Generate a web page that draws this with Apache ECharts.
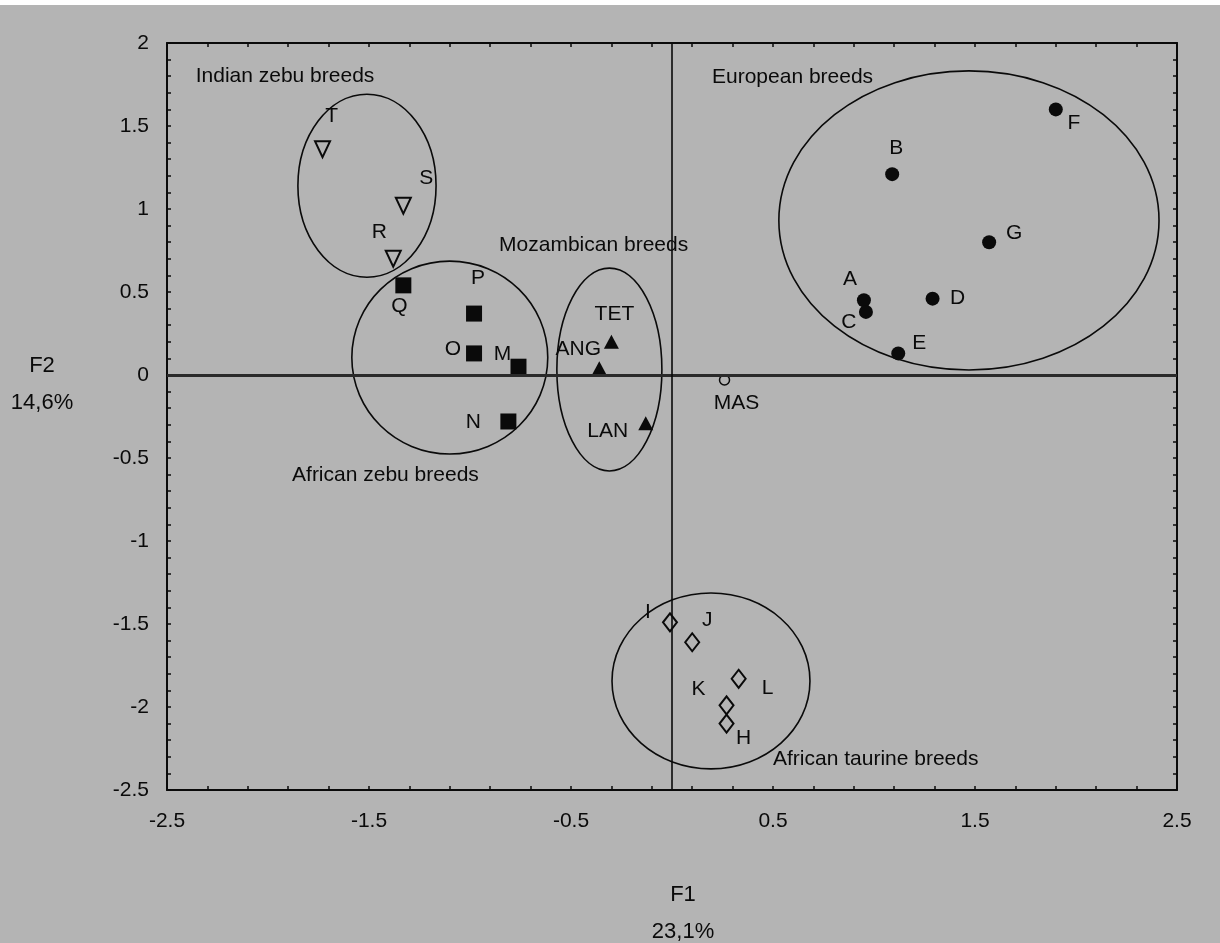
<!DOCTYPE html>
<html>
<head>
<meta charset="utf-8">
<script src="https://cdn.jsdelivr.net/npm/echarts@6/dist/echarts.min.js"></script>
<style>
  html, body { margin: 0; padding: 0; background: #fff; }
  #chart { width: 1220px; height: 943px; }
</style>
</head>
<body>
<div id="chart"></div>
<script>
// breed coordinates on the first two factors: [label, F1, F2]
const INDIAN_ZEBU = [['T', -1.73, 1.36], ['S', -1.33, 1.02], ['R', -1.38, 0.70]];
const AFRICAN_ZEBU = [['Q', -1.33, 0.54], ['P', -0.98, 0.37], ['O', -0.98, 0.13], ['M', -0.76, 0.05], ['N', -0.81, -0.28]];
const MOZAMBICAN = [['TET', -0.30, 0.20], ['ANG', -0.36, 0.04], ['LAN', -0.13, -0.29]];
const EUROPEAN = [['F', 1.90, 1.60], ['B', 1.09, 1.21], ['G', 1.57, 0.80], ['A', 0.95, 0.45], ['C', 0.96, 0.38], ['D', 1.29, 0.46], ['E', 1.12, 0.13]];
const AFRICAN_TAURINE = [['I', -0.01, -1.49], ['J', 0.10, -1.61], ['L', 0.33, -1.83], ['K', 0.27, -1.99], ['H', 0.27, -2.10]];
const OTHER = [['MAS', 0.26, -0.03]];

// group ellipses: [centre F1, centre F2, radius F1, radius F2]
const GROUP_ELLIPSES = [
  [-1.51, 1.14, 0.342, 0.551],
  [-1.10, 0.105, 0.485, 0.581],
  [-0.31, 0.033, 0.26, 0.611],
  [1.47, 0.931, 0.941, 0.901],
  [0.193, -1.843, 0.49, 0.53],
];
// group captions: [text, left F1, middle F2]
const GROUP_LABELS = [
  ['Indian zebu breeds', -2.358, 1.80],
  ['European breeds', 0.198, 1.795],
  ['Mozambican breeds', -0.856, 0.783],
  ['African zebu breeds', -1.881, -0.602],
  ['African taurine breeds', 0.50, -2.313],
];

const X_LABELS = [-2.5, -1.5, -0.5, 0.5, 1.5, 2.5];
const Y_LABELS = [-2.5, -2, -1.5, -1, -0.5, 0, 0.5, 1, 1.5, 2];

// point label offsets (px) from symbol centre
const LABEL_OFFSET = {
  T: [9, -33], S: [23, -27], R: [-14, -27],
  Q: [-4, 21], P: [4, -35], O: [-21, -4], M: [-16, -12], N: [-35, 1],
  TET: [3, -28], ANG: [-21, -19], LAN: [-38, 8], MAS: [12, 23],
  F: [18, 14], B: [4, -26], G: [25, -9], A: [-14, -21], C: [-17, 10], D: [25, 0], E: [21, -10],
  I: [-22, -10], J: [15, -22], L: [29, 9], K: [-28, -16], H: [17, 15],
};

const FONT = 'Liberation Sans, Arial, sans-serif';
const INK = '#0a0a0a';
const BG = '#b4b4b4';

const xTicks = [];
for (let i = 0; i <= 25; i++) xTicks.push(+(-2.5 + i * 0.2).toFixed(1));
const yTicks = [];
for (let i = 0; i <= 45; i++) yTicks.push(+(-2.5 + i * 0.1).toFixed(1));

const chart = echarts.init(document.getElementById('chart'), null, { renderer: 'canvas' });

function axisBase(ticks, labels, show, margin) {
  return {
    type: 'value', min: -2.5,
    axisLine: { show: true, onZero: false, lineStyle: { color: INK, width: 2 } },
    axisTick: { show: true, inside: true, length: 4, customValues: ticks, lineStyle: { color: INK, width: 1.5 } },
    axisLabel: { show: show, customValues: labels, color: INK, fontSize: 21, fontFamily: FONT, margin: margin || 8 },
    splitLine: { show: false },
  };
}

function pointSeries(rows, symbol, size, open, extra) {
  return Object.assign({
    type: 'scatter',
    symbol: symbol,
    symbolSize: size,
    data: rows.map(r => ({ name: r[0], value: [r[1], r[2]], label: { offset: LABEL_OFFSET[r[0]] } })),
    itemStyle: open
      ? { color: 'rgba(0,0,0,0)', borderColor: INK, borderWidth: 2, opacity: 1 }
      : { color: INK, opacity: 1 },
    label: {
      show: true, position: 'inside', formatter: p => p.name,
      color: INK, fontSize: 21, fontFamily: FONT,
    },
    emphasis: { disabled: true },
    z: 3,
  }, extra || {});
}

chart.setOption({
  backgroundColor: BG,
  animation: false,
  grid: { left: 167, right: 43, top: 43, bottom: 153 },
  xAxis: [
    Object.assign(axisBase(xTicks, X_LABELS, true, 21), { max: 2.5, position: 'bottom' }),
    Object.assign(axisBase(xTicks, X_LABELS, false), { max: 2.5, position: 'top' }),
  ],
  yAxis: [
    Object.assign(axisBase(yTicks, Y_LABELS, true, 18), { max: 2, position: 'left' }),
    Object.assign(axisBase(yTicks, Y_LABELS, false), { max: 2, position: 'right' }),
  ],
  graphic: [
    { type: 'rect', left: 0, top: 0, shape: { width: 1220, height: 5 }, style: { fill: '#fff' } },
    { type: 'text', x: 42, y: 366, style: { text: 'F2', textAlign: 'center', textVerticalAlign: 'middle', font: '22px ' + FONT, fill: INK } },
    { type: 'text', x: 42, y: 403, style: { text: '14,6%', textAlign: 'center', textVerticalAlign: 'middle', font: '22px ' + FONT, fill: INK } },
    { type: 'text', x: 683, y: 895, style: { text: 'F1', textAlign: 'center', textVerticalAlign: 'middle', font: '22px ' + FONT, fill: INK } },
    { type: 'text', x: 683, y: 932, style: { text: '23,1%', textAlign: 'center', textVerticalAlign: 'middle', font: '22px ' + FONT, fill: INK } },
  ],
  series: [
    {
      type: 'custom',
      data: GROUP_ELLIPSES,
      encode: { x: 0, y: 1 },
      silent: true,
      z: 1,
      renderItem: (params, api) => {
        const c = api.coord([api.value(0), api.value(1)]);
        const s = api.size([api.value(2), api.value(3)]);
        return {
          type: 'ellipse',
          shape: { cx: c[0], cy: c[1], rx: s[0], ry: s[1] },
          style: { fill: null, stroke: INK, lineWidth: 1.6 },
        };
      },
      markLine: {
        silent: true, symbol: ['none', 'none'], label: { show: false },
        data: [
          { yAxis: 0, lineStyle: { color: '#2a2a2a', width: 3, type: 'solid', opacity: 1 } },
          { xAxis: 0, lineStyle: { color: INK, width: 1.6, type: 'solid', opacity: 1 } },
        ],
      },
    },
    {
      type: 'scatter',
      symbolSize: 0,
      silent: true,
      data: GROUP_LABELS.map(g => ({ name: g[0], value: [g[1], g[2]] })),
      label: {
        show: true, position: 'right', distance: 0, formatter: p => p.name,
        color: INK, fontSize: 21, fontFamily: FONT,
      },
      itemStyle: { opacity: 1 },
      z: 2,
    },
    pointSeries(INDIAN_ZEBU, 'triangle', [15, 16], true, { symbolRotate: 180 }),
    pointSeries(AFRICAN_ZEBU, 'rect', 16, false),
    pointSeries(MOZAMBICAN, 'triangle', [15, 14], false),
    pointSeries(EUROPEAN, 'circle', 14, false),
    pointSeries(AFRICAN_TAURINE, 'diamond', [14, 18], true),
    pointSeries(OTHER, 'circle', 10, true, { itemStyle: { color: 'rgba(0,0,0,0)', borderColor: INK, borderWidth: 1.5, opacity: 1 } }),
  ],
});
</script>
</body>
</html>
